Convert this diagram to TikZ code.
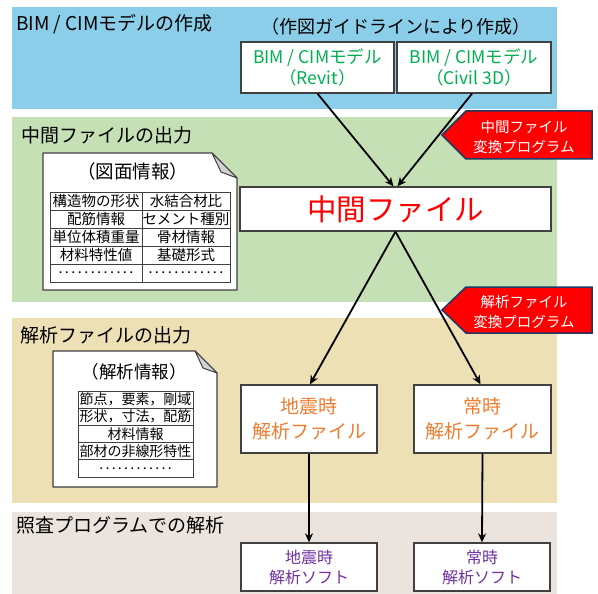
\documentclass[tikz,border=0pt]{standalone}
\usepackage{fontspec}
\setmainfont{Noto Sans CJK JP}
\usetikzlibrary{arrows.meta}
\definecolor{mblue}{RGB}{139,206,234}
\definecolor{mgreen}{RGB}{197,224,180}
\definecolor{mtan}{RGB}{237,224,180}
\definecolor{mgrey}{RGB}{235,228,222}
\definecolor{mline}{RGB}{64,64,64}
\definecolor{mnavy}{RGB}{31,56,100}
\definecolor{tgreen}{RGB}{0,176,80}
\definecolor{torange}{RGB}{237,125,49}
\definecolor{tpurple}{RGB}{112,48,160}
\definecolor{mfold}{RGB}{210,210,210}
\newcommand{\filldots}{.\,.\,.\,.\,.\,.\,.\,.\,.\,.\,.\,.}
\tikzset{box/.style = {draw=mline, line width=1.3pt, fill=white, align=center, inner sep=0}}
\tikzset{bandtitle/.style = {anchor=west, inner sep=0, font=\fontsize{19}{22}\selectfont}}
\tikzset{cell/.style = {draw=mline, line width=0.8pt, inner sep=0, minimum height=18pt}}
\tikzset{flow/.style = {line width=1.8pt, -{Stealth[length=9pt, width=8pt]}}}
\tikzset{callout/.style = {fill=red, draw=mnavy, line width=1.5pt, line join=miter}}

\begin{document}
\begin{tikzpicture}[x=1pt, y=-1pt]
  \useasboundingbox (0,0) rectangle (598,594);

  % four stages
  \fill [mblue] (12,7) rectangle (557,109);
  \fill [mgreen] (12,117) rectangle (557,302);
  \fill [mtan] (12,318) rectangle (557,503);
  \fill [mgrey] (12,512) rectangle (557,594);

  \node [bandtitle] (t1) at (16,24) {BIM / CIMモデルの作成};
  \node [bandtitle] (t2) at (21,135) {中間ファイルの出力};
  \node [bandtitle] (t3) at (20,335) {解析ファイルの出力};
  \node [bandtitle] (t4) at (16,525) {照査プログラムでの解析};

  % models
  \node [font=\fontsize{18}{21}\selectfont, inner sep=0] (guide) at (396,27)
        {（作図ガイドラインにより作成）};
  \node [box, text=tgreen, minimum width=153pt, minimum height=51pt,
         font=\fontsize{17.5}{21}\selectfont] (revit) at (317.5,67.5)
        {BIM / CIMモデル\\（Revit）};
  \node [box, text=tgreen, minimum width=154pt, minimum height=51pt,
         font=\fontsize{17.5}{21}\selectfont] (civil) at (474,67.5)
        {BIM / CIMモデル\\（Civil 3D）};

  % intermediate file
  \node [box, text=red, minimum width=311pt, minimum height=44pt,
         font=\fontsize{29.5}{32}\selectfont] (mid) at (395.5,209) {中間ファイル};

  % analysis files
  \node [box, text=torange, minimum width=136pt, minimum height=68pt,
         font=\fontsize{19}{25}\selectfont] (quakefile) at (309,419) {地震時\\解析ファイル};
  \node [box, text=torange, minimum width=137pt, minimum height=68pt,
         font=\fontsize{19}{25}\selectfont] (usualfile) at (482.5,419) {常時\\解析ファイル};

  % software
  \node [box, text=tpurple, minimum width=136pt, minimum height=48pt,
         font=\fontsize{16}{20}\selectfont] (quakesoft) at (309,567) {地震時\\解析ソフト};
  \node [box, text=tpurple, minimum width=136pt, minimum height=48pt,
         font=\fontsize{16}{20}\selectfont] (usualsoft) at (482,567) {常時\\解析ソフト};

  \draw [flow] (revit.south) -- ([xshift=-2pt]mid.north);
  \draw [flow] ([xshift=-2pt]civil.south) -- ([xshift=2pt]mid.north);
  \draw [flow] (mid.south) -- ([xshift=1pt]quakefile.north);
  \draw [flow] (mid.south) -- ([xshift=-2pt]usualfile.north);
  \draw [flow] (quakefile) -- (quakesoft);
  \draw [flow] (usualfile.south) -- (usualsoft.north);

  % converter programs
  \draw [callout] (442,135) -- (466,111) -- (592,111) -- (592,159) -- (466,159) -- cycle;
  \node [text=white, align=center, font=\fontsize{14.5}{20}\selectfont] (conv1) at (524,137)
        {中間ファイル\\変換プログラム};
  \draw [callout] (442,310) -- (466,287) -- (592,287) -- (592,333) -- (466,333) -- cycle;
  \node [text=white, align=center, font=\fontsize{14.5}{20}\selectfont] (conv2) at (524,312)
        {解析ファイル\\変換プログラム};

  % drawing data sheet
  \draw [fill=white, draw=mline, line width=1.3pt, line join=round]
        (43,153) -- (212,153) -- (237,178) -- (237,290) -- (43,290) -- cycle;
  \draw [fill=mfold, draw=mline, line width=1pt, line join=round]
        (212,153) -- (221,172) -- (237,178) -- cycle;
  \node [font=\fontsize{18.5}{21}\selectfont, inner sep=0] (sheet1) at (133,171) {（図面情報）};
  \foreach \lt/\rt [count=\i] in {構造物の形状/水結合材比, 配筋情報/セメント種別,
      単位体積重量/骨材情報, 材料特性値/基礎形式, \filldots/\filldots} {
    \node [cell, minimum width=92pt, font=\fontsize{14.5}{15}\selectfont] at (96,183+18*\i) {\lt};
    \node [cell, minimum width=88pt, font=\fontsize{14.5}{15}\selectfont] at (186,183+18*\i) {\rt};
  }

  % analysis data sheet
  \draw [fill=white, draw=mline, line width=1.3pt, line join=round]
        (53,351) -- (195,351) -- (217,373) -- (217,487) -- (53,487) -- cycle;
  \draw [fill=mfold, draw=mline, line width=1pt, line join=round]
        (195,351) -- (203,368) -- (217,373) -- cycle;
  \node [font=\fontsize{17.5}{20}\selectfont, inner sep=0] (sheet2) at (134,372) {（解析情報）};
  \foreach \row [count=\i] in {節点，要素，剛域, 形状，寸法，配筋, 材料情報,
      部材の非線形特性, \filldots} {
    \node [cell, minimum width=115pt, minimum height=17.2pt, font=\fontsize{14}{15}\selectfont]
          at (135.5,382.4+17.2*\i) {\row};
  }
\end{tikzpicture}
\end{document}
